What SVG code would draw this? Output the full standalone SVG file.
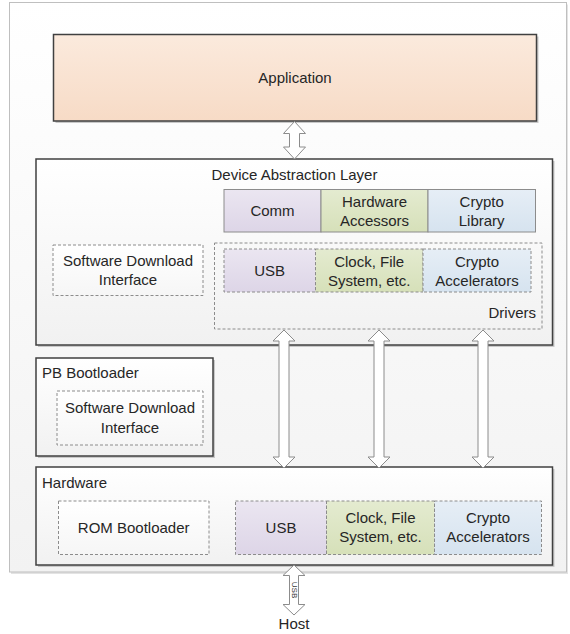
<svg xmlns="http://www.w3.org/2000/svg" width="570" height="634" viewBox="0 0 570 634">
<defs>
<linearGradient id="gBg" x1="0" y1="0" x2="0" y2="1"><stop offset="0" stop-color="#ffffff"/><stop offset="1" stop-color="#f2f2f2"/></linearGradient>
<linearGradient id="gBox" x1="0" y1="0" x2="0" y2="1"><stop offset="0" stop-color="#ffffff"/><stop offset="1" stop-color="#f1f1f1"/></linearGradient>
<linearGradient id="gApp" x1="0" y1="0" x2="0" y2="1"><stop offset="0" stop-color="#fbeadd"/><stop offset="1" stop-color="#f7dbc6"/></linearGradient>
<linearGradient id="gPur" x1="0" y1="0" x2="0" y2="1"><stop offset="0" stop-color="#ebe6f1"/><stop offset="1" stop-color="#ddd5e7"/></linearGradient>
<linearGradient id="gGrn" x1="0" y1="0" x2="0" y2="1"><stop offset="0" stop-color="#e4ebd0"/><stop offset="1" stop-color="#d6e0b9"/></linearGradient>
<linearGradient id="gBlu" x1="0" y1="0" x2="0" y2="1"><stop offset="0" stop-color="#e6eef6"/><stop offset="1" stop-color="#d6e3ef"/></linearGradient>
<linearGradient id="gWht" x1="0" y1="0" x2="0" y2="1"><stop offset="0" stop-color="#ffffff"/><stop offset="1" stop-color="#f6f6f6"/></linearGradient>
</defs>
<style>
text{font-family:"Liberation Sans",Arial,sans-serif;font-size:15px;fill:#262626}
.c{text-anchor:middle}
.shadow{fill:#c8c8c8}
.layer{fill:url(#gBox);stroke:#404040;stroke-width:1.5}
.solid{stroke:#8c8c8c;stroke-width:1}
.dash{stroke:#8c8c8c;stroke-width:1;stroke-dasharray:3,2}
.arrow{fill:#ffffff;stroke:#8c8c8c;stroke-width:1}
</style>

<g id="background">
<rect x="11" y="4.5" width="557" height="569.5" class="shadow" opacity="0.5"/>
<rect x="9.5" y="2.5" width="557" height="569.5" fill="url(#gBg)" stroke="#bfbfbf" stroke-width="1"/>
</g>

<g id="application">
<rect x="55.5" y="36.5" width="483" height="86.5" class="shadow"/>
<rect x="53.5" y="34.5" width="483" height="86.5" fill="url(#gApp)" stroke="#404040" stroke-width="1.5"/>
<text x="295" y="83" class="c">Application</text>
</g>

<g id="dal">
<rect x="38" y="161" width="516.5" height="186" class="shadow"/>
<rect x="36" y="159" width="516.5" height="186" class="layer"/>
<text x="294.5" y="180" class="c">Device Abstraction Layer</text>
</g>

<g id="comm">
<rect x="224" y="189.5" width="97" height="42.5" fill="url(#gPur)" class="solid"/>
<text x="272.5" y="216" class="c">Comm</text>
</g>
<g id="hw-accessors">
<rect x="321" y="189.5" width="107" height="42.5" fill="url(#gGrn)" class="solid"/>
<text x="374.5" y="207" class="c">Hardware</text>
<text x="374.5" y="226" class="c">Accessors</text>
</g>
<g id="crypto-library">
<rect x="428" y="189.5" width="107.5" height="42.5" fill="url(#gBlu)" class="solid"/>
<text x="481.7" y="207" class="c">Crypto</text>
<text x="481.7" y="226" class="c">Library</text>
</g>

<g id="sdi-dal">
<rect x="53" y="245" width="150" height="50.5" fill="url(#gWht)" class="dash"/>
<text x="128" y="266" class="c">Software Download</text>
<text x="128" y="285" class="c">Interface</text>
</g>

<g id="drivers">
<rect x="214.5" y="243" width="327.5" height="86" fill="none" class="dash"/>
<text x="536" y="318" text-anchor="end">Drivers</text>
</g>
<g id="dal-usb">
<rect x="224" y="249" width="91.5" height="43" fill="url(#gPur)" class="dash"/>
<text x="269.7" y="276" class="c">USB</text>
</g>
<g id="dal-clock">
<rect x="315.5" y="249" width="107.5" height="43" fill="url(#gGrn)" class="dash"/>
<text x="369.2" y="266.5" class="c">Clock, File</text>
<text x="369.2" y="285.5" class="c">System, etc.</text>
</g>
<g id="dal-crypto-acc">
<rect x="423" y="249" width="108" height="43" fill="url(#gBlu)" class="dash"/>
<text x="477" y="266.5" class="c">Crypto</text>
<text x="477" y="285.5" class="c">Accelerators</text>
</g>

<g id="pb-bootloader">
<rect x="38" y="360" width="177" height="98" class="shadow"/>
<rect x="36" y="358" width="177" height="98" class="layer"/>
<text x="42" y="377.5">PB Bootloader</text>
<rect x="57" y="391" width="146" height="54" fill="url(#gWht)" class="dash"/>
<text x="130" y="413" class="c">Software Download</text>
<text x="130" y="432.5" class="c">Interface</text>
</g>

<g id="hardware">
<rect x="38" y="469" width="516.5" height="98" class="shadow"/>
<rect x="36" y="467" width="516.5" height="98" class="layer"/>
<text x="42" y="488">Hardware</text>
</g>
<g id="rom-bootloader">
<rect x="58.5" y="501" width="150.5" height="53.5" fill="url(#gWht)" class="dash"/>
<text x="133.7" y="533" class="c">ROM Bootloader</text>
</g>
<g id="hw-usb">
<rect x="235.5" y="501" width="91" height="53.5" fill="url(#gPur)" class="dash"/>
<text x="281" y="533" class="c">USB</text>
</g>
<g id="hw-clock">
<rect x="326.5" y="501" width="108" height="53.5" fill="url(#gGrn)" class="dash"/>
<text x="380.5" y="523" class="c">Clock, File</text>
<text x="380.5" y="542" class="c">System, etc.</text>
</g>
<g id="hw-crypto-acc">
<rect x="434.5" y="501" width="107" height="53.5" fill="url(#gBlu)" class="dash"/>
<text x="488" y="523" class="c">Crypto</text>
<text x="488" y="542" class="c">Accelerators</text>
</g>

<g id="host">
<text x="294" y="629" class="c">Host</text>
</g>

<g id="connectors">
<path class="arrow" d="M294.5,121.5 L305.5,133.5 L299.5,133.5 L299.5,147 L305.5,147 L294.5,159 L283.5,147 L289.5,147 L289.5,133.5 L283.5,133.5 Z"/>
<path class="arrow" d="M284,330 L295,341 L289,341 L289,457 L295,457 L284,468 L273,457 L279,457 L279,341 L273,341 Z"/>
<path class="arrow" d="M379,330 L390,341 L384,341 L384,457 L390,457 L379,468 L368,457 L374,457 L374,341 L368,341 Z"/>
<path class="arrow" d="M483,330 L494,341 L488,341 L488,457 L494,457 L483,468 L472,457 L478,457 L478,341 L472,341 Z"/>
<path class="arrow" d="M294,565 L305,575.5 L298.5,575.5 L298.5,604.5 L305,604.5 L294,615 L283,604.5 L289.5,604.5 L289.5,575.5 L283,575.5 Z"/>
<text x="0" y="0" transform="translate(292,590) rotate(90)" class="c" style="font-size:8px;fill:#404040">USB</text>
</g>
</svg>
